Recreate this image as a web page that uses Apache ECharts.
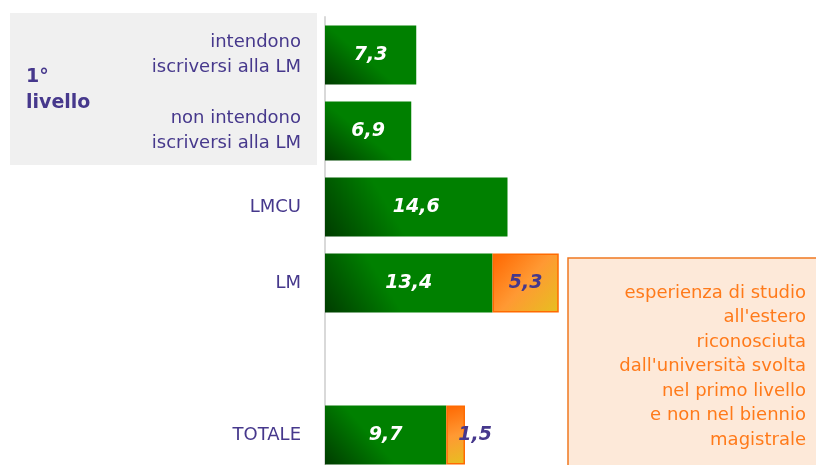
<!DOCTYPE html>
<html>
<head>
<meta charset="utf-8">
<script src="https://cdn.jsdelivr.net/npm/echarts@6/dist/echarts.min.js"></script>
<style>
  html, body { margin: 0; padding: 0; background: #fff; }
  #chart { width: 816px; height: 465px; }
</style>
</head>
<body>
<div id="chart"></div>
<script>
// categories, top to bottom (empty slot keeps the gap above TOTALE)
const categories = ['intendono\niscriversi alla LM', 'non intendono\niscriversi alla LM', 'LMCU', 'LM', '', 'TOTALE']
// esperienza di studio all'estero (%)
const greenValues = [7.3, 6.9, 14.6, 13.4, null, 9.7]
const orangeValues = [null, null, null, 5.3, null, 1.5]
const groupLabel = '1°\nlivello'
const noteText = "esperienza di studio\nall'estero\nriconosciuta\ndall'università svolta\nnel primo livello\ne non nel biennio\nmagistrale"

const purple = '#46388c'
const fmt = p => p.value == null ? '' : p.value.toFixed(1).replace('.', ',')

const chart = echarts.init(document.getElementById('chart'))

chart.setOption({
  animation: false,
  textStyle: { fontFamily: 'DejaVu Sans' },
  grid: { left: 325, top: 17, width: 500, height: 456, outerBoundsMode: 'none', containLabel: false },
  xAxis: {
    type: 'value',
    min: 0,
    max: 40,
    show: false
  },
  yAxis: {
    type: 'category',
    inverse: true,
    data: categories,
    axisTick: { show: false },
    axisLine: { lineStyle: { color: '#d9d9d9', width: 2 } },
    axisLabel: {
      color: purple,
      fontSize: 18,
      lineHeight: 25,
      margin: 24,
      align: 'right'
    }
  },
  graphic: [
    {
      type: 'rect',
      z: -10,
      shape: { x: 10, y: 13, width: 307, height: 152 },
      style: { fill: '#f0f0f0' }
    },
    {
      type: 'text',
      x: 26,
      y: 64,
      style: {
        text: groupLabel,
        fill: purple,
        font: 'bold 19px "DejaVu Sans"',
        lineHeight: 26
      }
    },
    {
      type: 'rect',
      shape: { x: 568, y: 258, width: 260, height: 220 },
      style: { fill: '#fde9d9', stroke: '#f07820', lineWidth: 1.5 }
    },
    {
      type: 'text',
      x: 806,
      y: 281,
      style: {
        text: noteText,
        fill: '#ff7a1a',
        font: '18px "DejaVu Sans"',
        lineHeight: 24.5,
        align: 'right'
      }
    }
  ],
  series: [
    {
      name: 'verde',
      type: 'bar',
      stack: 'tot',
      barWidth: 59,
      data: greenValues,
      itemStyle: {
        color: new echarts.graphic.LinearGradient(0, 1, 0.55, 0, [
          { offset: 0, color: '#003c00' },
          { offset: 0.6, color: '#008000' },
          { offset: 1, color: '#008000' }
        ])
      },
      label: {
        show: true,
        position: 'inside',
        formatter: fmt,
        color: '#fff',
        fontSize: 19,
        fontWeight: 'bold',
        fontStyle: 'italic'
      }
    },
    {
      name: 'arancio',
      type: 'bar',
      stack: 'tot',
      barWidth: 59,
      data: orangeValues.map((v, i) => i === 5
        ? { value: v, label: { position: 'insideLeft', distance: 12 } }
        : v),
      itemStyle: {
        borderColor: '#ff6a00',
        borderWidth: 1.5,
        color: new echarts.graphic.LinearGradient(0, 0, 1, 1, [
          { offset: 0, color: '#ff6600' },
          { offset: 0.5, color: '#ff9933' },
          { offset: 1, color: '#e6c020' }
        ])
      },
      label: {
        show: true,
        position: 'inside',
        formatter: fmt,
        color: purple,
        fontSize: 19,
        fontWeight: 'bold',
        fontStyle: 'italic'
      }
    }
  ]
})
</script>
</body>
</html>
